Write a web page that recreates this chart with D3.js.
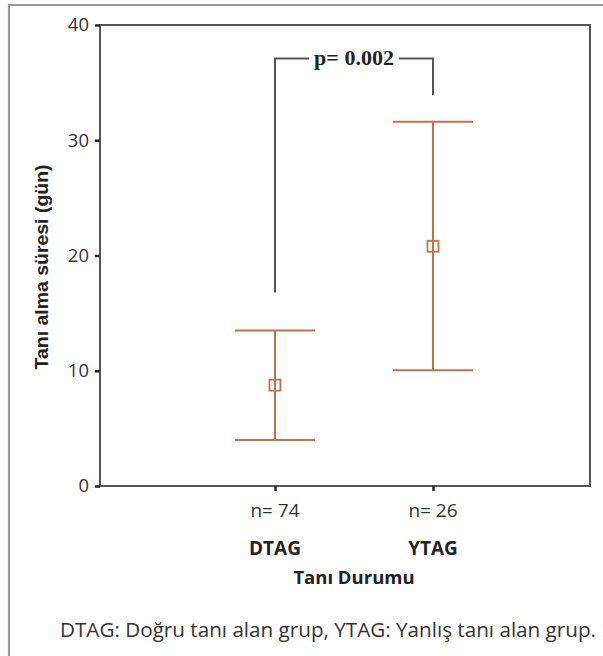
<!DOCTYPE html>
<html><head><meta charset="utf-8">
<script src="https://cdn.jsdelivr.net/npm/d3@7"></script>
<style>body{margin:0;background:#fff}svg{display:block}</style>
</head><body>
<svg id="c" width="603" height="656"></svg>
<script>
const categories = ["DTAG", "YTAG"];
const nLabels = ["n= 74", "n= 26"];
const means = [8.75, 20.8];
const upper = [13.5, 31.6];
const lower = [4.0, 10.05];
const yTicks = [0, 10, 20, 30, 40];
const bracket = {left: 16.8, right: 33.9, top: 37.1, label: "p= 0.002"};
const footnote = "DTAG: Doğru tanı alan grup, YTAG: Yanlış tanı alan grup.";

const svg = d3.select("#c");
const L = 100, R = 590, T = 25, B = 486;
const y = d3.scaleLinear().domain([0, 40]).range([B, T]);
const x = d3.scalePoint().domain(["", ...categories, " "]).range([117, 591]);
const col = "#c4714c", axc = "#555";
const sans = "'Open Sans', Lato, sans-serif";

// outer frame
svg.append("path").attr("d", `M9,656 V5 H603`).attr("fill","none").attr("stroke","#9a9a9a").attr("stroke-width",2.2);

// plot box
svg.append("rect").attr("x",L).attr("y",T).attr("width",R-L).attr("height",B-T)
  .attr("fill","none").attr("stroke",axc).attr("stroke-width",2);

// y axis
const ya = svg.append("g").attr("transform",`translate(${L},0)`)
  .call(d3.axisLeft(y).tickValues(yTicks).tickSize(5).tickPadding(6));
ya.select(".domain").remove();
ya.selectAll("line").attr("stroke","#222").attr("stroke-width",2.5);
ya.selectAll("text").attr("font-family",sans).attr("font-size",18.5).attr("fill","#333");

// x axis ticks
const xa = svg.append("g").attr("transform",`translate(0,${B})`)
  .call(d3.axisBottom(x).tickValues(categories).tickSize(5).tickFormat(""));
xa.select(".domain").remove();
xa.selectAll("line").attr("stroke","#222").attr("stroke-width",2.5);

// n labels & category labels
svg.selectAll(".nl").data(categories).join("text").attr("class","nl")
  .attr("x",d=>x(d)).attr("y",517).attr("text-anchor","middle")
  .attr("font-family",sans).attr("font-size",19).attr("fill","#333")
  .text((d,i)=>nLabels[i]);
svg.selectAll(".cl").data(categories).join("text").attr("class","cl")
  .attr("x",d=>x(d)).attr("y",555).attr("text-anchor","middle")
  .attr("font-family",sans).attr("font-weight","bold").attr("font-size",19).attr("fill","#222")
  .text(d=>d);
svg.append("text").attr("x",(x(categories[0])+x(categories[1]))/2).attr("y",584).attr("text-anchor","middle")
  .attr("font-family",sans).attr("font-weight","bold").attr("font-size",18.5).attr("fill","#222")
  .text("Tanı Durumu");

// y title
svg.append("text").attr("transform",`translate(48,${267}) rotate(-90)`).attr("text-anchor","middle")
  .attr("font-family","'Liberation Sans', Arial, sans-serif").attr("font-weight","bold").attr("font-size",18).attr("fill","#222")
  .attr("textLength",205).attr("lengthAdjust","spacingAndGlyphs")
  .text("Tanı alma süresi (gün)");

// error bars
const g = svg.append("g");
categories.forEach((c,i)=>{
  const cx = x(c);
  g.append("line").attr("x1",cx).attr("x2",cx).attr("y1",y(upper[i])).attr("y2",y(lower[i]))
    .attr("stroke",col).attr("stroke-width",2);
  [upper[i], lower[i]].forEach(v=>{
    g.append("line").attr("x1",cx-40).attr("x2",cx+40).attr("y1",y(v)).attr("y2",y(v))
      .attr("stroke",col).attr("stroke-width",2);
  });
  g.append("rect").attr("x",cx-5.5).attr("y",y(means[i])-5.5).attr("width",11).attr("height",11)
    .attr("fill","#fff").attr("stroke",col).attr("stroke-width",1.8);
  g.append("line").attr("x1",cx).attr("x2",cx).attr("y1",y(means[i])-5.5).attr("y2",y(means[i])+5.5)
    .attr("stroke",col).attr("stroke-width",2);
});

// bracket
const bx1 = x(categories[0]), bx2 = x(categories[1]), by = y(bracket.top);
const tx = (bx1+bx2)/2;
const lbl = svg.append("text").attr("x",tx).attr("y",by+7).attr("text-anchor","middle")
  .attr("font-family","'Liberation Serif', 'DejaVu Serif', serif").attr("font-weight","bold").attr("font-size",22).attr("fill","#222")
  .text(bracket.label);
const w = lbl.node().getComputedTextLength();
svg.append("path").attr("d",`M${bx1},${y(bracket.left)} V${by} H${tx-w/2-5}`)
  .attr("fill","none").attr("stroke",axc).attr("stroke-width",2);
svg.append("path").attr("d",`M${tx+w/2+5},${by} H${bx2} V${y(bracket.right)}`)
  .attr("fill","none").attr("stroke",axc).attr("stroke-width",2);

// footnote
svg.append("text").attr("x",596).attr("y",637).attr("text-anchor","end")
  .attr("font-family",sans).attr("font-size",20.5).attr("fill","#333")
  .attr("textLength",536).attr("lengthAdjust","spacingAndGlyphs")
  .text(footnote);
</script>
</body></html>
